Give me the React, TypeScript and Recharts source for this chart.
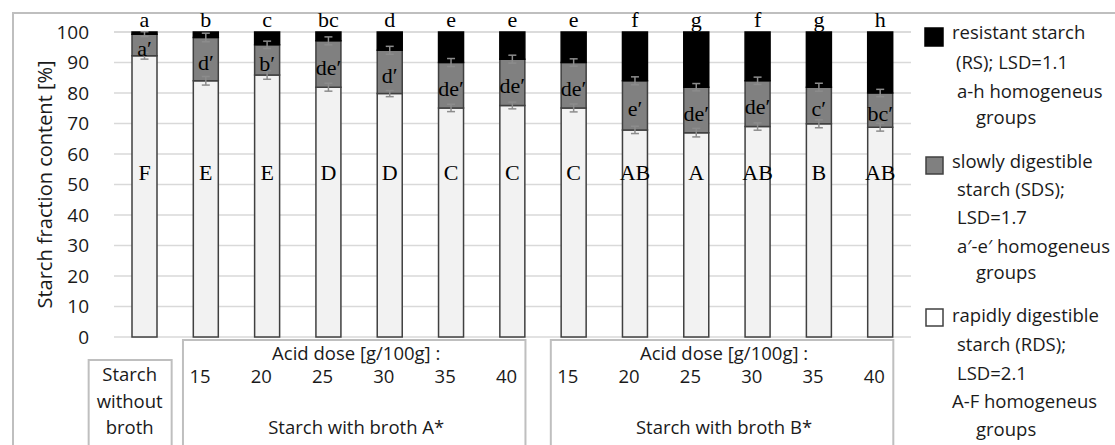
import React from 'react';
import { BarChart, Bar, XAxis, YAxis, CartesianGrid, ErrorBar, LabelList } from 'recharts';

const categories = [
  'Starch without broth',
  'Broth A 15', 'Broth A 20', 'Broth A 25', 'Broth A 30', 'Broth A 35', 'Broth A 40',
  'Broth B 15', 'Broth B 20', 'Broth B 25', 'Broth B 30', 'Broth B 35', 'Broth B 40',
];
const doseLabels = ['', '15', '20', '25', '30', '35', '40', '15', '20', '25', '30', '35', '40'];
const rdsValues = [92.2, 84.0, 85.9, 81.9, 79.8, 75.1, 75.9, 75.1, 67.9, 67.0, 69.0, 69.9, 68.8];
const sdsValues = [7.1, 14.2, 9.9, 15.2, 14.2, 14.9, 15.2, 14.9, 16.1, 14.9, 15.0, 12.0, 11.2];
const rsValues = [0.7, 1.8, 4.2, 2.9, 6.0, 10.0, 8.9, 10.0, 16.0, 18.1, 16.0, 18.1, 20.0];
const rdsErrors = [1.1, 1.4, 1.4, 1.3, 1.0, 1.2, 1.1, 1.3, 1.2, 1.4, 1.2, 1.3, 1.3];
const sdsErrors = [0.8, 1.4, 1.2, 1.3, 1.3, 1.3, 1.3, 1.2, 1.3, 1.2, 1.2, 1.3, 1.2];
const rsGroups = ['a', 'b', 'c', 'bc', 'd', 'e', 'e', 'e', 'f', 'g', 'f', 'g', 'h'];
const sdsGroups = ['a′', 'd′', 'b′', 'de′', 'd′', 'de′', 'de′', 'de′', 'e′', 'de′', 'de′', 'c′', 'bc′'];
const rdsGroups = ['F', 'E', 'E', 'D', 'D', 'C', 'C', 'C', 'AB', 'A', 'AB', 'B', 'AB'];
const yTicks = [0, 10, 20, 30, 40, 50, 60, 70, 80, 90, 100];
const controlLabelLines = ['Starch', 'without', 'broth'];
const groupStarts = [1, 7];
const groupTitles = ['Starch with broth A*', 'Starch with broth B*'];
const doseTitle = 'Acid dose [g/100g] :';
const yAxisTitle = 'Starch fraction content [%]';
const legendRS = ['resistant starch', '(RS); LSD=1.1', 'a-h homogeneus', 'groups'];
const legendSDS = ['slowly digestible', 'starch (SDS);', 'LSD=1.7', 'a′-e′ homogeneus', 'groups'];
const legendRDS = ['rapidly digestible', 'starch (RDS);', 'LSD=2.1', 'A-F homogeneus', 'groups'];

const data = categories.map((c, i) => ({
  name: c,
  rds: rdsValues[i],
  sds: sdsValues[i],
  rs: rsValues[i],
  rdsErr: rdsErrors[i],
  sdsErr: sdsErrors[i],
  rsGroup: rsGroups[i],
  sdsGroup: sdsGroups[i],
  rdsGroup: rdsGroups[i],
}));

const SANS = '"Open Sans", sans-serif';
const SERIF = '"Liberation Serif", "Times New Roman", serif';
const TEXT = '#1a1a1a';
const BOX = '#bfbfbf';
const STEP = 61.3;
const RDS_LABEL_LEVEL = 51.5;

function XTick(props: any) {
  const { x, y, index } = props;
  const items: any[] = [];
  if (index === 0) {
    items.push(<rect key="box" x={x - 56} y={y + 23} width={83} height={130} fill="none" stroke={BOX} strokeWidth={2} />);
    controlLabelLines.forEach((t, i) =>
      items.push(
        <text key={'c' + i} x={x - 15} y={y + 38 + i * 26.5} dy="0.35em" textAnchor="middle" fontFamily={SANS} fontSize={18.5} fill={TEXT}>
          {t}
        </text>
      )
    );
  } else {
    items.push(
      <text key="dose" x={x - 6} y={y + 40} dy="0.35em" textAnchor="middle" fontFamily={SANS} fontSize={18.5} fill={TEXT}>
        {doseLabels[index]}
      </text>
    );
    const g = groupStarts.indexOf(index);
    if (g >= 0) {
      const left = x - 23;
      const right = x + 5 * STEP + 13;
      const mid = x + 2.5 * STEP - 3;
      items.push(<rect key="gbox" x={left} y={y + 3} width={right - left} height={150} fill="none" stroke={BOX} strokeWidth={2} />);
      items.push(
        <text key="dt" x={mid} y={y + 17} dy="0.35em" textAnchor="middle" fontFamily={SANS} fontSize={18.5} fill={TEXT}>
          {doseTitle}
        </text>
      );
      items.push(
        <text key="gt" x={mid} y={y + 91} dy="0.35em" textAnchor="middle" fontFamily={SANS} fontSize={18.5} fill={TEXT}>
          {groupTitles[g]}
        </text>
      );
    }
  }
  return <g>{items}</g>;
}

const topLabel = (props: any) => {
  const { x, y, width, value } = props;
  return (
    <text x={x + width / 2} y={y - 5} textAnchor="middle" fontFamily={SERIF} fontSize={22} fill="#000">
      {value}
    </text>
  );
};

const midLabel = (props: any) => {
  const { x, y, width, height, value } = props;
  return (
    <text x={x + width / 2} y={y + height / 2 + 3} dy="0.35em" textAnchor="middle" fontFamily={SERIF} fontSize={22} fill="#000">
      {value}
    </text>
  );
};

const lowLabel = (props: any) => {
  const { x, y, width, height, value, index } = props;
  const bottom = y + height;
  const ly = bottom - (height * RDS_LABEL_LEVEL) / rdsValues[index];
  return (
    <text x={x + width / 2} y={ly} textAnchor="middle" fontFamily={SERIF} fontSize={22} fill="#000">
      {value}
    </text>
  );
};

const yLabel = (props: any) => {
  const vb = props.viewBox || { x: 0, y: 32, width: 114, height: 305 };
  const cx = 45;
  const cy = vb.y + vb.height / 2;
  return (
    <text x={cx} y={cy} dy="0.35em" textAnchor="middle" transform={`rotate(-90 ${cx} ${cy})`} fontFamily={SANS} fontSize={20} fill={TEXT}>
      {yAxisTitle}
    </text>
  );
};

function LegendBlock({ lines, sq, pos }: any) {
  return (
    <g>
      <rect x={sq.x} y={sq.y} width={sq.s} height={sq.s} fill={sq.fill} stroke={sq.stroke} strokeWidth={1.5} />
      {lines.map((t: string, i: number) => (
        <text key={i} x={pos[i][0]} y={pos[i][1]} dy="0.35em" fontFamily={SANS} fontSize={18.5} fill={TEXT}>
          {t}
        </text>
      ))}
    </g>
  );
}

export default function App() {
  return (
    <div style={{ position: 'absolute', left: 0, top: 0, width: 1115, height: 445, overflow: 'hidden', background: '#fff' }}>
      <div style={{ position: 'absolute', left: 12, top: 12, width: 1200, height: 600, borderTop: `2px solid ${BOX}`, borderLeft: `2px solid ${BOX}` }} />
      <div style={{ position: 'absolute', left: 0, top: 0 }}>
        <BarChart width={1115} height={445} data={data} margin={{ top: 32, right: 204, left: 0, bottom: 0 }}>
          <CartesianGrid vertical={false} stroke="#d9d9d9" strokeWidth={1.5} />
          <XAxis dataKey="name" height={108} axisLine={false} tickLine={false} tickSize={0} tickMargin={0} interval={0} tick={<XTick />} />
          <YAxis
            width={114}
            domain={[0, 100]}
            ticks={yTicks}
            axisLine={false}
            tickLine={false}
            tickSize={0}
            tickMargin={25}
            tick={{ fontFamily: SANS, fontSize: 19, fill: TEXT }}
            label={yLabel}
          />
          <Bar dataKey="rds" stackId="s" fill="#f2f2f2" stroke="#404040" strokeWidth={1.5} barSize={25} isAnimationActive={false}>
            <ErrorBar dataKey="rdsErr" width={4} stroke="#8c8c8c" strokeWidth={1.5} />
            <LabelList dataKey="rdsGroup" content={lowLabel} />
          </Bar>
          <Bar dataKey="sds" stackId="s" fill="#808080" stroke="#404040" strokeWidth={1.5} barSize={25} isAnimationActive={false}>
            <ErrorBar dataKey="sdsErr" width={4} stroke="#8c8c8c" strokeWidth={1.5} />
            <LabelList dataKey="sdsGroup" content={midLabel} />
          </Bar>
          <Bar dataKey="rs" stackId="s" fill="#000000" stroke="#000000" strokeWidth={1.5} barSize={25} isAnimationActive={false}>
            <LabelList dataKey="rsGroup" content={topLabel} />
          </Bar>
        </BarChart>
      </div>
      <svg width={1115} height={445} style={{ position: 'absolute', left: 0, top: 0, pointerEvents: 'none' }}>
        <LegendBlock
          lines={legendRS}
          sq={{ x: 925, y: 28, s: 18, fill: '#000', stroke: '#000' }}
          pos={[[952, 33], [956, 63], [957, 92], [976, 118]]}
        />
        <LegendBlock
          lines={legendSDS}
          sq={{ x: 926, y: 157, s: 17, fill: '#808080', stroke: '#404040' }}
          pos={[[952, 162], [957, 190], [957, 218], [957, 247], [976, 273]]}
        />
        <LegendBlock
          lines={legendRDS}
          sq={{ x: 926, y: 309, s: 17, fill: '#ffffff', stroke: '#404040' }}
          pos={[[952, 316], [957, 345], [957, 374], [952, 402], [976, 430]]}
        />
      </svg>
    </div>
  );
}
